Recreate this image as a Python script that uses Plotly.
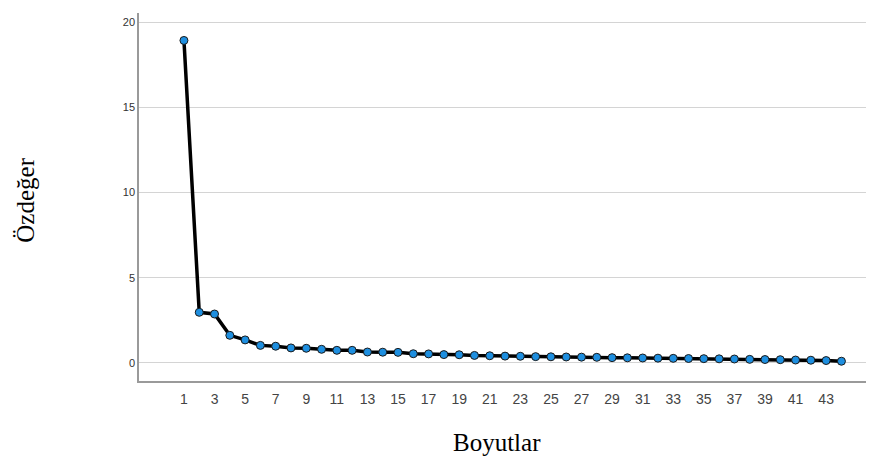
import plotly.graph_objects as go

components = list(range(1, 45))
eigenvalues = [18.92, 2.97, 2.87, 1.62, 1.35, 1.03, 0.98, 0.88, 0.86, 0.80,
               0.74, 0.74, 0.64, 0.63, 0.62, 0.54, 0.53, 0.49, 0.48, 0.44,
               0.42, 0.40, 0.39, 0.37, 0.36, 0.35, 0.34, 0.33, 0.31, 0.30,
               0.29, 0.28, 0.27, 0.26, 0.25, 0.24, 0.23, 0.21, 0.20, 0.19,
               0.17, 0.16, 0.14, 0.10]
x_ticks = list(range(1, 44, 2))
y_ticks = [0, 5, 10, 15, 20]

fig = go.Figure()
fig.add_trace(go.Scatter(
    x=components, y=eigenvalues, mode="lines+markers",
    line=dict(color="#000000", width=3.5),
    marker=dict(color="#1e8fe0", size=8, line=dict(color="#1a1a1a", width=1)),
    showlegend=False,
))

fig.update_layout(
    width=866, height=454,
    margin=dict(l=131, r=0, t=5, b=81),
    paper_bgcolor="white", plot_bgcolor="white",
    xaxis=dict(range=[-1.94, 46.13], tickmode="array", tickvals=x_ticks,
               ticktext=[str(t) for t in x_ticks],
               showgrid=False, zeroline=False, showline=True, linecolor="#9a9a9a", linewidth=1.5,
               ticks="outside", ticklen=4, tickcolor="rgba(0,0,0,0)",
               tickfont=dict(family="Liberation Sans, Arial", size=14, color="#444444")),
    yaxis=dict(range=[-1.06, 20.53], tickmode="array", tickvals=y_ticks,
               showgrid=True, gridcolor="#d4d4d4", gridwidth=1, zeroline=False,
               showline=True, linecolor="#9a9a9a", linewidth=1.5, ticks="",
               tickfont=dict(family="Liberation Sans, Arial", size=11, color="#333333")),
    annotations=[
        dict(text="Boyutlar", xref="paper", yref="paper", x=0.487, y=-0.168,
             showarrow=False, font=dict(family="Liberation Serif, Times New Roman", size=25, color="#000000"),
             xanchor="center", yanchor="middle"),
        dict(text="Özdeğer", xref="paper", yref="paper", x=-0.1537, y=0.49, textangle=-90,
             showarrow=False, font=dict(family="Liberation Serif, Times New Roman", size=25, color="#000000"),
             xanchor="center", yanchor="middle"),
    ],
)

fig.write_html("out.html")
